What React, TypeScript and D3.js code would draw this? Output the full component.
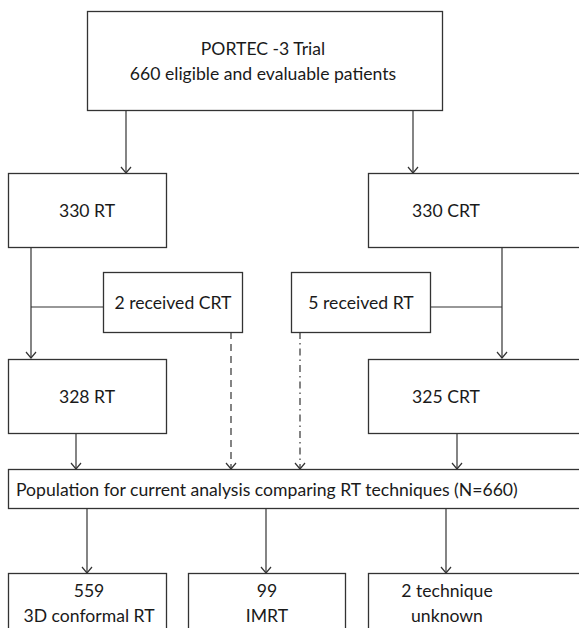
import React, { useEffect, useRef } from "react";
import * as d3 from "d3";

// counts
const trialName = "PORTEC -3 Trial";
const eligible = 660;
const armLabels = ["RT", "CRT"];
const randomised = [330, 330];
const crossedOver = [2, 5];
const crossedTo = ["CRT", "RT"];
const treated = [328, 325];
const populationN = 660;
const techniqueCounts = ["559", "99", "2"];
const techniqueLabels = ["3D conformal RT", "IMRT", "technique unknown"];

const W = 579;
const H = 628;
const STROKE = "#333";
const FONT = "Lato, 'Open Sans', sans-serif";

interface Box {
  x0: number;
  x1: number;
  y0: number;
  y1: number;
}

function App() {
  const ref = useRef<SVGSVGElement | null>(null);

  useEffect(() => {
    if (!ref.current) return;
    const svg = d3.select(ref.current);
    svg.selectAll("*").remove();

    // layout in px
    const top: Box = { x0: 87, x1: 442, y0: 11, y1: 110 };
    const arm: Box[] = [
      { x0: 8, x1: 166, y0: 173, y1: 247 },
      { x0: 368, x1: 590, y0: 173, y1: 247 },
    ];
    const cross: Box[] = [
      { x0: 103, x1: 242, y0: 272, y1: 332 },
      { x0: 291, x1: 430, y0: 272, y1: 332 },
    ];
    const treat: Box[] = [
      { x0: 8, x1: 166, y0: 359, y1: 433 },
      { x0: 368, x1: 590, y0: 359, y1: 433 },
    ];
    const pop: Box = { x0: 8, x1: 590, y0: 469, y1: 508 };
    const tech: Box[] = [
      { x0: 8, x1: 166, y0: 573, y1: 640 },
      { x0: 188, x1: 345, y0: 573, y1: 640 },
      { x0: 368, x1: 590, y0: 573, y1: 640 },
    ];

    const g = svg.append("g");
    const line = d3.line<[number, number]>();

    const drawBox = (b: Box) =>
      g.append("rect")
        .attr("x", b.x0 + 0.5)
        .attr("y", b.y0 + 0.5)
        .attr("width", b.x1 - b.x0)
        .attr("height", b.y1 - b.y0)
        .attr("fill", "#fff")
        .attr("stroke", STROKE)
        .attr("stroke-width", 1.3);

    const drawLine = (pts: [number, number][], dash?: string) =>
      g.append("path")
        .attr("d", line(pts))
        .attr("fill", "none")
        .attr("stroke", STROKE)
        .attr("stroke-width", 1.2)
        .attr("stroke-dasharray", dash ?? null);

    const arrow = (x: number, y0: number, y1: number, dash?: string) => {
      drawLine([[x, y0], [x, y1]], dash);
      drawLine([[x - 5, y1 - 6], [x, y1], [x + 5, y1 - 6]]);
    };

    const label = (lines: string[], cx: number, y: number, anchor = "middle") => {
      const t = g.append("text")
        .attr("font-family", FONT)
        .attr("font-size", 17.6)
        .attr("fill", "#1a1a1a")
        .attr("text-anchor", anchor);
      lines.forEach((s, i) => {
        t.append("tspan").attr("x", cx).attr("y", y + i * 24.5).text(s);
      });
    };

    // connectors first so boxes sit over them
    arrow(126, top.y1, arm[0].y0);
    arrow(413, top.y1, arm[1].y0);
    arrow(31, arm[0].y1, treat[0].y0 - 1);
    arrow(502, arm[1].y1, treat[1].y0 - 1);
    drawLine([[31, 307], [cross[0].x0, 307]]);
    drawLine([[cross[1].x1, 307], [502, 307]]);
    arrow(231, cross[0].y1, pop.y0, "7,5");
    arrow(300, cross[1].y1, pop.y0, "7,4,1.5,4");
    arrow(76, treat[0].y1, pop.y0);
    arrow(457, treat[1].y1, pop.y0);
    [87, 266, 446].forEach((x) => arrow(x, pop.y1, tech[0].y0));

    [top, ...arm, ...cross, ...treat, pop, ...tech].forEach(drawBox);

    label([trialName, `${eligible} eligible and evaluable patients`], 263, 55);
    label([`${randomised[0]} ${armLabels[0]}`], 87, 217);
    label([`${randomised[1]} ${armLabels[1]}`], 446, 217);
    label([`${crossedOver[0]} received ${crossedTo[0]}`], 173, 309);
    label([`${crossedOver[1]} received ${crossedTo[1]}`], 361, 309);
    label([`${treated[0]} ${armLabels[0]}`], 87, 403);
    label([`${treated[1]} ${armLabels[1]}`], 446, 403);
    label([`Population for current analysis comparing RT techniques (N=${populationN})`], 16, 496, "start");
    label([techniqueCounts[0], techniqueLabels[0]], 89, 597);
    label([techniqueCounts[1], techniqueLabels[1]], 267, 597);
    label([`${techniqueCounts[2]} technique`, "unknown"], 447, 597);
  }, []);

  return (
    <svg
      ref={ref}
      width={W}
      height={H}
      style={{ position: "absolute", left: 0, top: 0, background: "#fff" }}
    />
  );
}

export default App;
